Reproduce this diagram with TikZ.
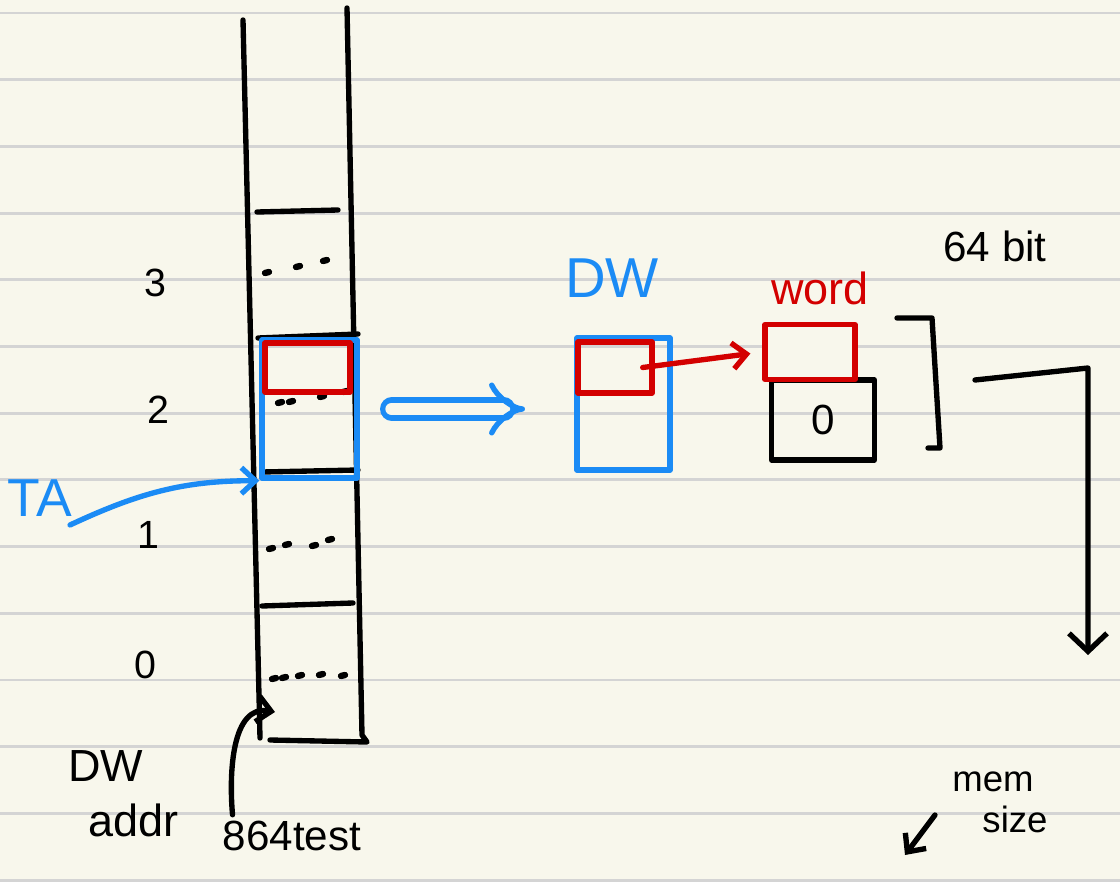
\documentclass[tikz,border=0pt]{standalone}
\usepackage{fontspec}
\setmainfont{Liberation Sans}
\usetikzlibrary{arrows.meta,positioning}
\definecolor{paper}{HTML}{F8F7EC}
\definecolor{ruling}{HTML}{D4D4D4}
\definecolor{penblue}{HTML}{1B8BF5}
\definecolor{penred}{HTML}{D30000}
\tikzset{
  pen/.style={line width=3.8pt, line cap=round, line join=round},
  slot/.style={pen, draw, inner sep=0pt},
  hand/.style={font=\fontsize{#1}{#1}\selectfont, inner sep=0pt},
  barb/.style={-{Straight Barb[length=0.35cm,width=0.65cm]}},
}
\begin{document}
\begin{tikzpicture}[x=0.025cm, y=-0.025cm]
  % paper
  \fill[paper] (0,0) rectangle (1120,882);
  \useasboundingbox (0,0) rectangle (1120,882);
  \foreach \k in {0,...,13}
    \draw[ruling, line width=2pt] (0,{13+66.7*\k}) -- (1120,{13+66.7*\k});

  % memory column
  \draw[pen] (243,20) -- (260,738);
  \draw[pen] (347,8) -- (362,735) -- (367,742) -- (270,740);
  \draw[pen] (257,212) -- (338,210)
    (258,338) -- (358,334)
    (262,472) -- (358,470)
    (262,606) -- (353,603);
  % dots in the cells
  \foreach \x/\y in {267/273,298/267,325/261,280/403,291/402,322/397,345/392,
                     271/549,287/545,314/546,330/540,274/679,284/678,300/676,321/675,343/676}
    \draw[pen, line width=4.5pt] (\x-2,\y) -- (\x+2,\y-1);

  % row numbers
  \node[hand=28pt] (n3) at (155,283) {3};
  \node[hand=28pt] (n2) at (158,410) {2};
  \node[hand=28pt] (n1) at (148,535) {1};
  \node[hand=28pt] (n0) at (145,665) {0};

  % double word inside the column
  \node[slot, penblue, minimum width=2.375cm, minimum height=3.45cm] (coldw) at (309.5,409) {};
  \node[slot, penred, minimum width=2.125cm, minimum height=1.225cm] (colword) at (307.5,367.5) {};

  % TA pointer
  \node[hand=38pt, penblue] (ta) at (40,498) {TA};
  \draw[pen, penblue, barb] (70,525) to[out=25,in=180] (coldw.south west) ;

  % DW view
  \draw[pen, penblue, double=paper, double distance=9pt, -{Implies[length=0.5cm]},
        shorten <=0.8cm, shorten >=1.3cm] (coldw.east) -- (coldw.east -| 577,0);
  \node[hand=40pt, penblue] (dwlbl) at (612,278) {DW};
  \node[slot, penblue, minimum width=2.325cm, minimum height=3.3cm] (dw) at (623.5,404) {};
  \node[slot, penred, minimum width=1.85cm, minimum height=1.275cm] (dwword) at (615,367.5) {};

  % word view
  \node[hand=32pt, penred] (wordlbl) at (820,288) {word};
  \node[slot, minimum width=2.575cm, minimum height=2cm] (zero) at (823,420) {};
  \node[hand=30pt] (zerolbl) at (zero.center) {0};
  \node[slot, penred, fill=paper, minimum width=2.25cm, minimum height=1.375cm] (word) at (810,352) {};
  \draw[pen, penred, barb, shorten >=0.3cm] ([xshift=-0.3cm]dwword.east) -- (word.west);

  % 64 bit
  \node[hand=30pt] (bits) at (995,246) {64 bit};
  \draw[pen] (897,318) -- (932,318) -- (940,448) -- (928,448);
  \coordinate (bstart) at (975,380);
  \coordinate (bend) at (1088,655);
  \draw[pen, -{Straight Barb[length=0.45cm,width=0.95cm]}] (bstart) -- (1088,368) -- (bend);

  % labels at the bottom
  \node[hand=32pt, anchor=west] (dwaddr) at (68,766) {DW};
  \node[hand=32pt, anchor=west] (addr) at (88,820) {addr};
  \node[hand=30pt] (test) at (292,836) {864test};
  \draw[pen, barb] (test.north west) ++(10,-6) to[out=95,in=170] (275,712);

  \node[hand=26pt] (mem) at (993,782) {mem};
  \node[hand=26pt] (size) at (1015,819) {size};
  \coordinate (memtip) at (905,855);
  \draw[pen, barb] (935,815) -- (memtip);
\end{tikzpicture}
\end{document}
